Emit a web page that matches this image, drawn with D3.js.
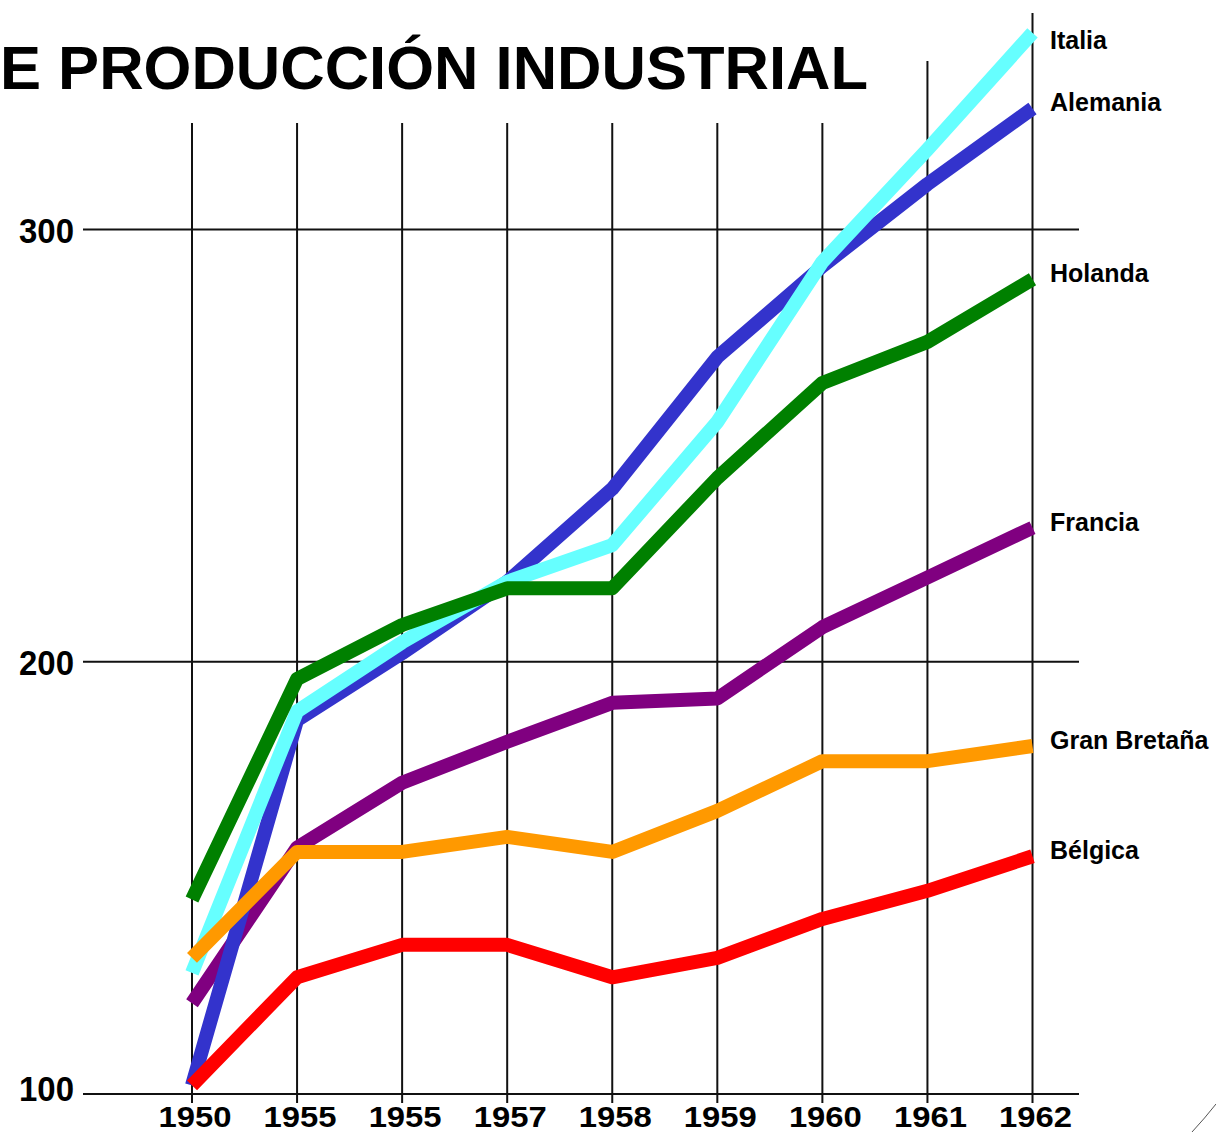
<!DOCTYPE html>
<html><head><meta charset="utf-8">
<script src="https://cdn.jsdelivr.net/npm/d3@7"></script>
<style>html,body{margin:0;padding:0;background:#fff;overflow:hidden}</style>
</head><body><svg id="c" width="1216" height="1132"></svg>
<script>
// ---- data ----
const title = "E PRODUCCIÓN INDUSTRIAL";
const years = ["1950","1955","1955","1957","1958","1959","1960","1961","1962"];
const yTicks = [100, 200, 300];
const countries = ["Francia","Alemania","Italia","Holanda","Bélgica","Gran Bretaña"];
const italia      = [128, 188.5, 204.5, 218.5, 227, 255.5, 292.5, 318.5, 345.5];
const alemania    = [102, 186.5, 202, 218.5, 240, 270.5, 291.5, 310.5, 328];
const holanda     = [145, 196, 208.5, 217, 217, 242.5, 264.5, 274, 288.5];
const francia     = [121, 157, 172, 181.5, 190.5, 191.5, 208, 219.5, 231];
const granBretana = [131.5, 156, 156, 159.5, 156, 165.5, 177, 177, 180.5];
const belgica     = [102, 127, 134.5, 134.5, 127, 131.5, 140.5, 147, 155];

// ---- setup ----
const seriesValues = {
  "Francia": francia, "Alemania": alemania, "Italia": italia,
  "Holanda": holanda, "Bélgica": belgica, "Gran Bretaña": granBretana
};
const colors = {
  "Francia": "#800080", "Alemania": "#3333CC", "Italia": "#66FFFF",
  "Holanda": "#008000", "Bélgica": "#FF0000", "Gran Bretaña": "#FF9900"
};

const svg = d3.select("#c");
const x = d3.scalePoint().domain(d3.range(years.length)).range([192, 1032.5]);
const y = d3.scaleLinear().domain([100, 300]).range([1094, 229.5]);

const font = "'Liberation Sans', Arial, Helvetica, sans-serif";

// title
svg.append("text")
  .attr("x", 0).attr("y", 89)
  .attr("text-anchor", "start")
  .attr("font-family", font).attr("font-weight", "bold").attr("font-size", 62)
  .attr("textLength", 868).attr("lengthAdjust", "spacingAndGlyphs")
  .attr("fill", "#000")
  .text(title);

// grid
const grid = svg.append("g").attr("stroke", "#111").attr("stroke-width", 2);
grid.selectAll("line.h").data(yTicks).join("line").attr("class", "h")
  .attr("x1", 83).attr("x2", 1079)
  .attr("y1", d => y(d)).attr("y2", d => y(d));
const topFor = i => i === years.length - 1 ? 13 : (i === years.length - 2 ? 61 : 123);
grid.selectAll("line.v").data(d3.range(years.length)).join("line").attr("class", "v")
  .attr("x1", d => x(d)).attr("x2", d => x(d))
  .attr("y1", d => topFor(d)).attr("y2", 1103);

// y labels
svg.append("g").selectAll("text").data(yTicks).join("text")
  .attr("x", 74).attr("y", d => Math.min(y(d) + 13, 1101))
  .attr("text-anchor", "end")
  .attr("font-family", font).attr("font-weight", "bold").attr("font-size", 35)
  .attr("textLength", 55).attr("lengthAdjust", "spacingAndGlyphs")
  .text(d => d);

// x labels
svg.append("g").selectAll("text").data(d3.range(years.length)).join("text")
  .attr("x", d => x(d) + 3).attr("y", 1127)
  .attr("text-anchor", "middle")
  .attr("font-family", font).attr("font-weight", "bold").attr("font-size", 29)
  .attr("textLength", 73).attr("lengthAdjust", "spacingAndGlyphs")
  .text(d => years[d]);

// lines
const line = d3.line().x((d, i) => x(i)).y(d => y(d));
svg.append("g").selectAll("path").data(countries).join("path")
  .attr("d", c => line(seriesValues[c]))
  .attr("fill", "none")
  .attr("stroke", c => colors[c])
  .attr("stroke-width", 14)
  .attr("stroke-linejoin", "round")
  .attr("stroke-linecap", "butt");

// series labels
svg.append("g").selectAll("text").data(countries).join("text")
  .attr("x", 1050)
  .attr("y", c => Math.max(y(seriesValues[c][years.length - 1]) + 3, 49))
  .attr("font-family", font).attr("font-weight", "bold").attr("font-size", 25)
  .attr("fill", "#000")
  .text(c => c);

// small page-curl mark at bottom-right corner
svg.append("path")
  .attr("d", "M1192,1132 Q1205,1118 1216,1104")
  .attr("fill", "none").attr("stroke", "#555").attr("stroke-width", 1);
</script>
</body></html>
